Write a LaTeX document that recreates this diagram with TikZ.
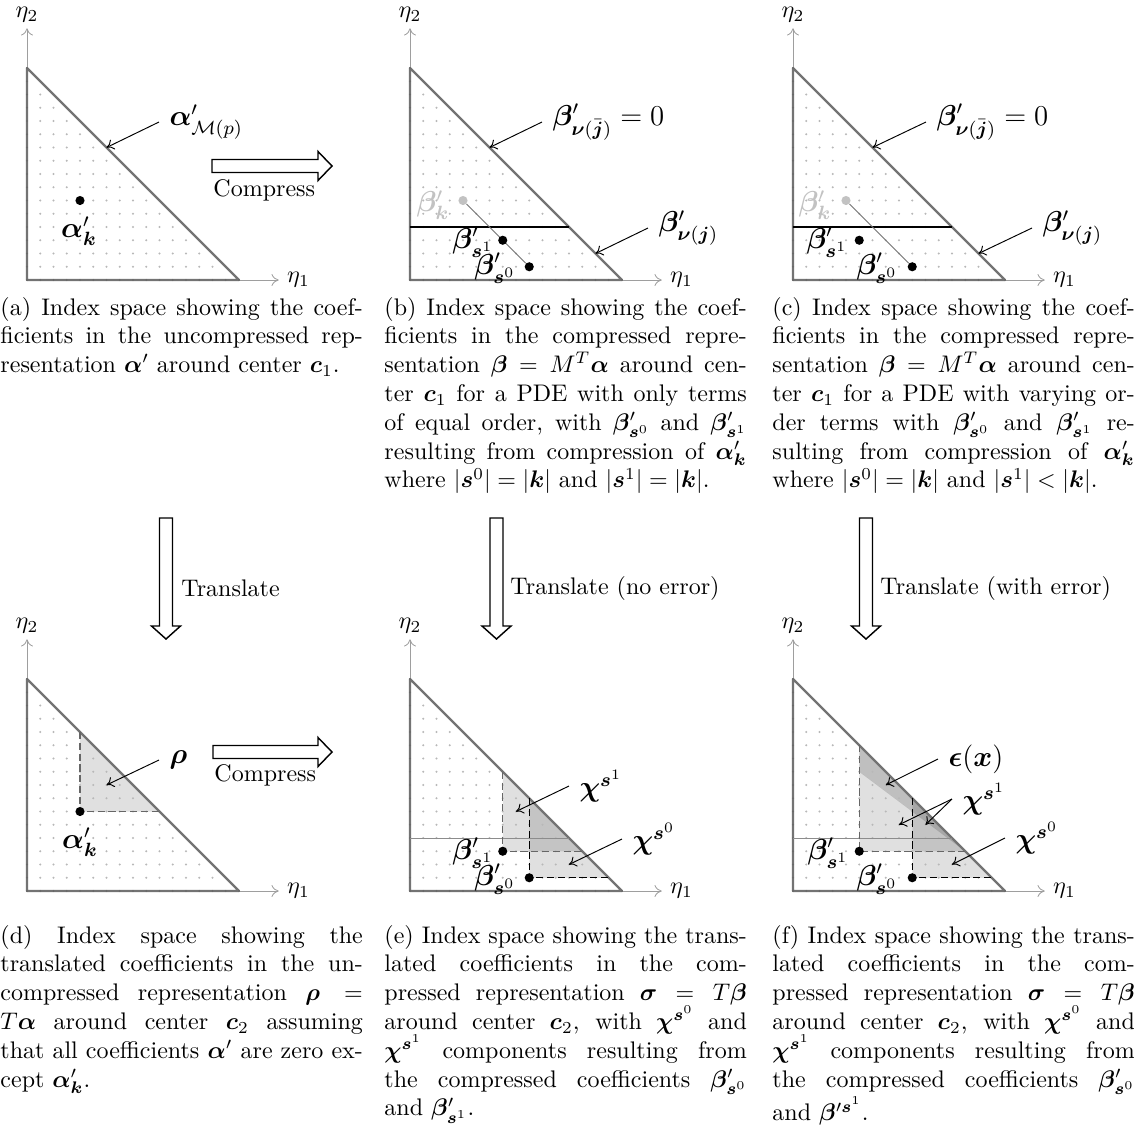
\documentclass[tikz,border=0pt]{standalone}
\usepackage{amsmath,bm}
\usetikzlibrary{arrows.meta}
\definecolor{tri}{gray}{0.45}
\definecolor{axis}{gray}{0.62}
\definecolor{gdot}{gray}{0.72}
\definecolor{kgray}{gray}{0.76}
\tikzset{
  tri/.style={draw=tri,line width=0.9pt,line join=round},
  axisline/.style={draw=axis,line width=0.35pt,-{To[length=3pt,width=5pt]}},
  ptr/.style={draw=black,line width=0.4pt,-{To[length=3pt,width=4.5pt]}},
  lab/.style={font=\large,inner sep=4.2pt},
  bdot/.style={circle,fill=black,inner sep=0pt,minimum size=3.8pt},
  blk/.style={draw=black,line width=0.6pt,fill=white,line join=miter},
  dgray/.style={draw=black!60,line width=0.5pt,dash pattern=on 3pt off 1.5pt},
  dblack/.style={draw=black,line width=0.6pt,dash pattern=on 3pt off 1.5pt},
  shadeone/.style={fill=black,fill opacity=0.12},
  shadeeps/.style={fill=black,fill opacity=0.25},
  thinline/.style={draw=black!45,line width=0.4pt},
  compline/.style={draw=black,line width=0.6pt},
  linkline/.style={draw=black!55,line width=0.4pt},
  edgemark/.style={fill=black!60},
  captxt/.style={inner sep=0pt,anchor=base west},
  arrlabel/.style={inner sep=0pt}
}
\newcommand\panelgrid{%
  \foreach \i in {0,...,16}{%
    \pgfmathtruncatemacro\jmax{16-\i}%
    \foreach \j in {0,...,\jmax}{\fill[gdot] (\i,\j) circle (0.5pt);}}}
\newcommand\panelframe[1]{%
  \draw[axisline] (0,0) -- (19,0) node[right,text=black] (#1x) {$\eta_1$};
  \draw[axisline] (0,0) -- (0,19) node[above,inner sep=2.2pt,text=black] (#1y) {$\eta_2$};
  \draw[tri] (0,0) -- (16,0) -- (0,16) -- cycle;
  \foreach \i in {0,...,16}{\fill[edgemark] (\i,0) circle (0.4pt); \fill[edgemark] (0,\i) circle (0.4pt);}}
\begin{document}
\begin{tikzpicture}[x=0.416667pt,y=-0.416667pt]
\useasboundingbox (0,0) rectangle (1134,1141);
\fill[white] (0,0) rectangle (1134,1141);

%% ---------------- panel a
\begin{scope}[shift={(27,280)},x=5.52083pt,y=5.52083pt]
  \panelgrid
  \panelframe{a}
  \coordinate (aM) at (6,10);
  \node[bdot] (ak) at (4,6) {};
\end{scope}
\node[lab,anchor=west] (aMl) at (159,122) {$\bm\alpha'_{\mathcal M(p)}$};
\draw[ptr] (aMl.west) -- (aM);
\node[lab] (akl) at (79,231) {$\bm\alpha'_{\bm k}$};

%% compress arrow a->b
\draw[blk] (212,159.5) -- (318,159.5) -- (318,151.5) -- (332,166) -- (318,180.5) -- (318,172.5) -- (212,172.5) -- cycle;
\node[arrlabel,anchor=base west] (comp1) at (213,196) {Compress};

%% ---------------- panel b
\begin{scope}[shift={(410,280)},x=5.52083pt,y=5.52083pt]
  \panelgrid
  \panelframe{b}
  \draw[compline] (0,4) -- (12,4);
  \coordinate (bM) at (6,10);
  \coordinate (bJ) at (14,2);
  \node[bdot,fill=kgray] (bk) at (4,6) {};
  \node[bdot] (bs0) at (9,1) {};
  \draw[linkline] (bk) -- (bs0);
  \node[bdot] (bs1) at (7,3) {};
\end{scope}
\node[lab,anchor=west] (bMl) at (542,122) {$\bm\beta'_{\bm\nu(\bar{\bm j})} = 0$};
\draw[ptr] (bMl.west) -- (bM);
\node[lab,anchor=west] (bJl) at (648,228) {$\bm\beta'_{\bm\nu(\bm j)}$};
\draw[ptr] (bJl.west) -- (bJ);
\node[lab,text=kgray] (bkl) at (433,205) {$\bm\beta'_{\bm k}$};
\node[lab] (bs1l) at (473,242) {$\bm\beta'_{\bm s^1}$};
\node[lab] (bs0l) at (495,268) {$\bm\beta'_{\bm s^0}$};

%% ---------------- panel c
\begin{scope}[shift={(793,280)},x=5.52083pt,y=5.52083pt]
  \panelgrid
  \panelframe{c}
  \draw[compline] (0,4) -- (12,4);
  \coordinate (cM) at (6,10);
  \coordinate (cJ) at (14,2);
  \node[bdot,fill=kgray] (ck) at (4,6) {};
  \node[bdot] (cs0) at (9,1) {};
  \draw[linkline] (ck) -- (cs0);
  \node[bdot] (cs1) at (5,3) {};
\end{scope}
\node[lab,anchor=west] (cMl) at (926,122) {$\bm\beta'_{\bm\nu(\bar{\bm j})} = 0$};
\draw[ptr] (cMl.west) -- (cM);
\node[lab,anchor=west] (cJl) at (1032,228) {$\bm\beta'_{\bm\nu(\bm j)}$};
\draw[ptr] (cJl.west) -- (cJ);
\node[lab,text=kgray] (ckl) at (815,205) {$\bm\beta'_{\bm k}$};
\node[lab] (cs1l) at (827,242) {$\bm\beta'_{\bm s^1}$};
\node[lab] (cs0l) at (877,268) {$\bm\beta'_{\bm s^0}$};

%% ---------------- captions top
\node[captxt] (capa) at (0,315) {\parbox[t]{151pt}{(a) Index space showing the coef-\linebreak ficients in the uncompressed rep-\linebreak resentation $\bm\alpha'$ around center $\bm c_1$.}};
\node[captxt] (capb) at (384,315) {\parbox[t]{151pt}{(b) Index space showing the coef-\linebreak ficients in the compressed repre-\linebreak sentation $\bm\beta = M^T\bm\alpha$ around cen-\linebreak ter $\bm c_1$ for a PDE with only terms\linebreak of equal order, with $\bm\beta'_{\bm s^0}$ and $\bm\beta'_{\bm s^1}$\linebreak resulting from compression of $\bm\alpha'_{\bm k}$\linebreak where $|\bm s^0| = |\bm k|$ and $|\bm s^1| = |\bm k|$.}};
\node[captxt] (capc) at (772,315) {\parbox[t]{151pt}{(c) Index space showing the coef-\linebreak ficients in the compressed repre-\linebreak sentation $\bm\beta = M^T\bm\alpha$ around cen-\linebreak ter $\bm c_1$ for a PDE with varying or-\linebreak der terms with $\bm\beta'_{\bm s^0}$ and $\bm\beta'_{\bm s^1}$ re-\linebreak sulting from compression of $\bm\alpha'_{\bm k}$\linebreak where $|\bm s^0| = |\bm k|$ and $|\bm s^1| < |\bm k|$.}};

%% ---------------- translate arrows
\draw[blk] (159.5,518) -- (172.5,518) -- (172.5,626) -- (180.5,626) -- (166,639) -- (151.5,626) -- (159.5,626) -- cycle;
\node[arrlabel,anchor=west] (tr1) at (181,588) {Translate};
\draw[blk] (490,518) -- (503,518) -- (503,626) -- (511,626) -- (496.5,639) -- (482,626) -- (490,626) -- cycle;
\node[arrlabel,anchor=west] (tr2) at (510,588) {Translate (no error)};
\draw[blk] (859.5,518) -- (872.5,518) -- (872.5,626) -- (880.5,626) -- (866,639) -- (851.5,626) -- (859.5,626) -- cycle;
\node[arrlabel,anchor=west] (tr3) at (880,588) {Translate (with error)};

%% ---------------- panel d
\begin{scope}[shift={(27,891)},x=5.52083pt,y=5.52083pt]
  \fill[shadeone] (4,6) -- (4,12) -- (10,6) -- cycle;
  \panelgrid
  \panelframe{d}
  \draw[dgray] (4,12) -- (4,6) -- (10,6);
  \coordinate (dR) at (6,8);
  \node[bdot] (dk) at (4,6) {};
\end{scope}
\node[lab,anchor=west] (dRl) at (159,760) {$\bm\rho$};
\draw[ptr] (dRl.west) -- (dR);
\node[lab] (dkl) at (80,842) {$\bm\alpha'_{\bm k}$};

%% compress arrow d->e
\draw[blk] (213,745.5) -- (318,745.5) -- (318,737.5) -- (332,752) -- (318,766.5) -- (318,758.5) -- (213,758.5) -- cycle;
\node[arrlabel,anchor=base west] (comp2) at (214,781) {Compress};

%% ---------------- panel e
\begin{scope}[shift={(410,891)},x=5.52083pt,y=5.52083pt]
  \fill[shadeone] (7,3) -- (7,9) -- (13,3) -- cycle;
  \fill[shadeone] (9,1) -- (9,7) -- (15,1) -- cycle;
  \panelgrid
  \panelframe{e}
  \draw[thinline] (0,4) -- (12,4);
  \draw[dgray] (7,9) -- (7,3) -- (13,3);
  \draw[dblack] (9,7) -- (9,1) -- (15,1);
  \coordinate (eC1) at (8,6);
  \coordinate (eC0) at (12,2);
  \node[bdot] (es1) at (7,3) {};
  \node[bdot] (es0) at (9,1) {};
\end{scope}
\node[lab,anchor=west] (eC1l) at (569,786) {$\bm\chi^{\bm s^1}$};
\draw[ptr] (eC1l.west) -- (eC1);
\node[lab,anchor=west] (eC0l) at (622,839) {$\bm\chi^{\bm s^0}$};
\draw[ptr] (eC0l.west) -- (eC0);
\node[lab] (es1l) at (473,853) {$\bm\beta'_{\bm s^1}$};
\node[lab] (es0l) at (495,879) {$\bm\beta'_{\bm s^0}$};

%% ---------------- panel f
\begin{scope}[shift={(793,891)},x=5.52083pt,y=5.52083pt]
  \fill[shadeone] (5,3) -- (5,9) -- (13,3) -- cycle;
  \fill[shadeeps] (5,9) -- (5,11) -- (13,3) -- cycle;
  \fill[shadeone] (9,1) -- (9,7) -- (15,1) -- cycle;
  \panelgrid
  \panelframe{f}
  \draw[thinline] (0,4) -- (12,4);
  \draw[dgray] (5,11) -- (5,3) -- (13,3);
  \draw[dblack] (9,7) -- (9,1) -- (15,1);
  \coordinate (fE) at (7,8);
  \coordinate (fC1a) at (8,5);
  \coordinate (fC1b) at (10,5);
  \coordinate (fC0) at (12,2);
  \node[bdot] (fs1) at (5,3) {};
  \node[bdot] (fs0) at (9,1) {};
\end{scope}
\node[lab,anchor=west] (fEl) at (938,759) {$\bm\epsilon(\bm x)$};
\draw[ptr] (fEl.west) -- (fE);
\node[lab,anchor=west] (fC1l) at (952,799) {$\bm\chi^{\bm s^1}$};
\draw[ptr] (fC1l.west) -- (fC1a);
\draw[ptr] (fC1l.west) -- (fC1b);
\node[lab,anchor=west] (fC0l) at (1005,838) {$\bm\chi^{\bm s^0}$};
\draw[ptr] (fC0l.west) -- (fC0);
\node[lab] (fs1l) at (828,853) {$\bm\beta'_{\bm s^1}$};
\node[lab] (fs0l) at (877,879) {$\bm\beta'_{\bm s^0}$};

%% ---------------- captions bottom
\node[captxt] (capd) at (0,943) {\parbox[t]{151pt}{(d) Index space showing the\linebreak translated coefficients in the un-\linebreak compressed representation $\bm\rho =$\linebreak $T\bm\alpha$ around center $\bm c_2$ assuming\linebreak that all coefficients $\bm\alpha'$ are zero ex-\linebreak cept $\bm\alpha'_{\bm k}$.}};
\node[captxt] (cape) at (384,943) {\parbox[t]{151pt}{(e) Index space showing the trans-\linebreak lated coefficients in the com-\linebreak pressed representation $\bm\sigma = T\bm\beta$\linebreak around center $\bm c_2$, with $\bm\chi^{\bm s^0}$ and\linebreak $\bm\chi^{\bm s^1}$ components resulting from\linebreak the compressed coefficients $\bm\beta'_{\bm s^0}$\linebreak and $\bm\beta'_{\bm s^1}$.}};
\node[captxt] (capf) at (772,943) {\parbox[t]{151pt}{(f) Index space showing the trans-\linebreak lated coefficients in the com-\linebreak pressed representation $\bm\sigma = T\bm\beta$\linebreak around center $\bm c_2$, with $\bm\chi^{\bm s^0}$ and\linebreak $\bm\chi^{\bm s^1}$ components resulting from\linebreak the compressed coefficients $\bm\beta'_{\bm s^0}$\linebreak and $\bm\beta'^{\bm s^1}$.}};
\end{tikzpicture}
\end{document}
